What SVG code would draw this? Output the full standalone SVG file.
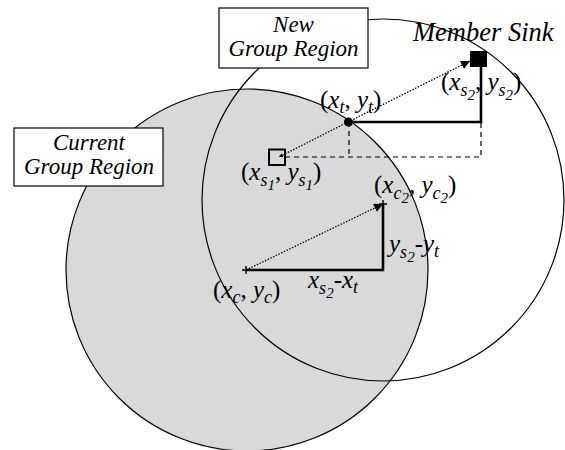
<svg xmlns="http://www.w3.org/2000/svg" width="565" height="450" viewBox="0 0 565 450">
<defs>
<style>
text{font-family:"Liberation Serif","Times New Roman",Times,serif;font-style:italic;fill:#000}
.lbl{font-size:25px}
.r{font-style:normal}
.sub{font-size:18px}
.sub2{font-size:15px}
.thick{stroke:#000;stroke-width:2.6;fill:none}
.dash{stroke:#000;stroke-width:1.2;fill:none;stroke-dasharray:5,4}
.dot{stroke:#000;stroke-width:1.3;fill:none;stroke-dasharray:1.5,1.5}
.box{fill:#fff;stroke:#000;stroke-width:1.2}
</style>
<marker id="ah" viewBox="0 0 10 10" refX="10" refY="5" markerWidth="9" markerHeight="9" markerUnits="userSpaceOnUse" orient="auto">
<path d="M0,0 L10,5 L0,10 z" fill="#000"/>
</marker>
<marker id="ahs" viewBox="0 0 10 10" refX="10" refY="5" markerWidth="4" markerHeight="4" markerUnits="userSpaceOnUse" orient="auto">
<path d="M0,0 L10,5 L0,10 z" fill="#000"/>
</marker>
</defs>
<rect width="565" height="450" fill="#fff"/>
<g id="current-region-circle"><circle cx="247" cy="270" r="181" fill="#d9d9d9" stroke="#000" stroke-width="1.2"/></g>
<g id="new-region-circle"><circle cx="383" cy="200" r="181" fill="none" stroke="#000" stroke-width="1.2"/></g>
<g id="connectors">
<path class="thick" d="M348,122 H481 V66"/>
<path class="thick" d="M246,270 H383 V204"/>
<path class="dash" d="M349,122 V157 M285,157 H481 V122"/>
<path class="dot" d="M348,122 L470,61" marker-end="url(#ah)"/>
<path class="dot" d="M348,122 L279,157" marker-end="url(#ahs)"/>
<path class="dot" d="M246,270 L383,204" marker-end="url(#ah)"/>
</g>
<g id="member-sink"><rect x="470" y="51" width="17" height="16" fill="#000"/></g>
<g id="source-s1"><rect x="269" y="149.5" width="16" height="15.5" fill="none" stroke="#000" stroke-width="2"/></g>
<g id="point-t"><circle cx="348.5" cy="122" r="4.5" fill="#000"/></g>
<g id="center-c"><path d="M242,270 H250 M246,266 V274" stroke="#000" stroke-width="1.4"/></g>
<g id="center-c2"><path d="M379,204 H387 M383,200 V208" stroke="#000" stroke-width="1.4"/></g>
<g id="new-group-region">
<rect class="box" x="219" y="8" width="149" height="60"/>
<text x="293.5" y="32" font-size="23" text-anchor="middle">New</text>
<text x="293.5" y="56" font-size="23" text-anchor="middle">Group Region</text>
</g>
<g id="current-group-region">
<rect class="box" x="14" y="128" width="149" height="58"/>
<text x="89" y="150" font-size="23" text-anchor="middle">Current</text>
<text x="89" y="174" font-size="23" text-anchor="middle">Group Region</text>
</g>
<g id="labels">
<text x="413" y="41" font-size="26.5">Member Sink</text>
<text class="lbl" x="320" y="108"><tspan class="r">(</tspan>x<tspan class="sub" dy="5">t</tspan><tspan class="r" dy="-5">, </tspan>y<tspan class="sub" dy="5">t</tspan><tspan class="r" dy="-5">)</tspan></text>
<text class="lbl" x="441" y="90"><tspan class="r">(</tspan>x<tspan class="sub" dy="6">s</tspan><tspan class="sub2" dy="4">2</tspan><tspan class="r" dy="-10">, </tspan>y<tspan class="sub" dy="6">s</tspan><tspan class="sub2" dy="4">2</tspan><tspan class="r" dy="-10">)</tspan></text>
<text class="lbl" x="241" y="180"><tspan class="r">(</tspan>x<tspan class="sub" dy="6">s</tspan><tspan class="sub2" dy="4">1</tspan><tspan class="r" dy="-10">, </tspan>y<tspan class="sub" dy="6">s</tspan><tspan class="sub2" dy="4">1</tspan><tspan class="r" dy="-10">)</tspan></text>
<text class="lbl" x="374" y="193"><tspan class="r">(</tspan>x<tspan class="sub" dy="6">c</tspan><tspan class="sub2" dy="4">2</tspan><tspan class="r" dy="-10">, </tspan>y<tspan class="sub" dy="6">c</tspan><tspan class="sub2" dy="4">2</tspan><tspan class="r" dy="-10">)</tspan></text>
<text class="lbl" x="389" y="252">y<tspan class="sub" dy="6">s</tspan><tspan class="sub2" dy="4">2</tspan><tspan class="r" dy="-10">-</tspan>y<tspan class="sub" dy="5">t</tspan></text>
<text class="lbl" x="308" y="288">x<tspan class="sub" dy="6">s</tspan><tspan class="sub2" dy="4">2</tspan><tspan class="r" dy="-10">-</tspan>x<tspan class="sub" dy="5">t</tspan></text>
<text class="lbl" x="213" y="298"><tspan class="r">(</tspan>x<tspan class="sub" dy="5">c</tspan><tspan class="r" dy="-5">, </tspan>y<tspan class="sub" dy="5">c</tspan><tspan class="r" dy="-5">)</tspan></text>
</g>
</svg>
